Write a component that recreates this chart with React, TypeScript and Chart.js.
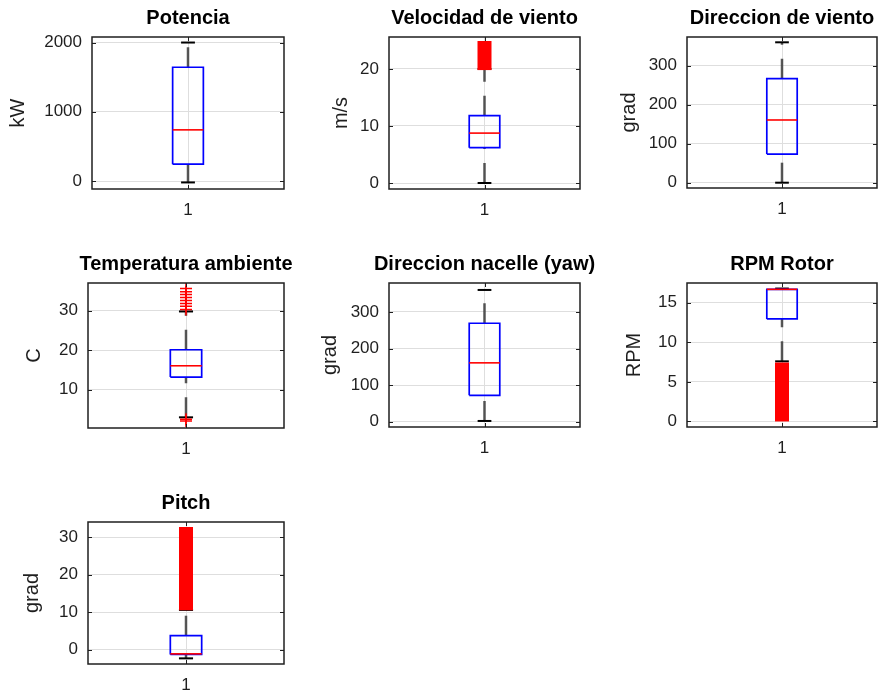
import React, { useEffect, useRef } from "react";
import { Chart, registerables } from "chart.js";

Chart.register(...registerables);

// ---- data -------------------------------------------------------------
const titles = [
  "Potencia",
  "Velocidad de viento",
  "Direccion de viento",
  "Temperatura ambiente",
  "Direccion nacelle (yaw)",
  "RPM Rotor",
  "Pitch",
];
const units = ["kW", "m/s", "grad", "C", "grad", "RPM", "grad"];
const xCategories = ["1"];

const q1 = [243, 6.2, 73.5, 13.2, 72, 12.96, -1.25];
const medians = [739, 8.75, 160.8, 16.05, 160.8, 16.7, -1.1];
const q3 = [1643, 11.8, 266.7, 20.1, 269, 16.7, 3.73];
const whiskerLow = [-20, 0, 0, 3.0, 2, 7.6, -2.3];
const whiskerHigh = [2000, 20, 360, 29.8, 360, 16.8, 10.6];

// runs of outliers so dense that the markers merge into a solid band
const outlierBandFrom: (number | null)[] = [null, 19.8, null, null, null, 0, 10.5];
const outlierBandTo: (number | null)[] = [null, 24.9, null, null, null, 7.45, 32.7];

// individual outliers drawn as '+' markers
const outlierPoints: number[][] = [
  [],
  [],
  [],
  [2.1, 2.5, 30.3, 31.1, 31.8, 32.6, 33.3, 34.1, 34.8, 35.6],
  [],
  [],
  [],
];

const yMin = [-115, -1.05, -13.6, 0.3, -14.5, -0.7, -3.8];
const yMax = [2080, 25.6, 373.6, 37, 379, 17.5, 34];
const yTicks = [
  [0, 1000, 2000],
  [0, 10, 20],
  [0, 100, 200, 300],
  [10, 20, 30],
  [0, 100, 200, 300],
  [0, 5, 10, 15],
  [0, 10, 20, 30],
];

// ---- layout -----------------------------------------------------------
// plot-area rectangles on the page and distance of the y label from the axis
const panelRects = [
  { left: 92, top: 37, width: 192, height: 152, labelGap: 73.5 },
  { left: 389, top: 37, width: 191, height: 152, labelGap: 47.8 },
  { left: 687, top: 37, width: 190, height: 151, labelGap: 58 },
  { left: 88, top: 283, width: 196, height: 145, labelGap: 54 },
  { left: 389, top: 283, width: 191, height: 144, labelGap: 58.3 },
  { left: 687, top: 283, width: 190, height: 144, labelGap: 52.7 },
  { left: 88, top: 522, width: 196, height: 142, labelGap: 55.8 },
];

const Y_AXIS_W = 100;
const TITLE_H = 36;
const X_AXIS_H = 40;
const BOX_HALF = 0.08;
const CAP_HALF = 0.036;
const LABEL_SIZE = 20;

const FONT = "'Liberation Sans', Arial, Helvetica, sans-serif";
const AXIS_COLOR = "#1f1f1f";
const GRID_COLOR = "#dedede";
const BOX_COLOR = "#0000ff";
const RED = "#ff0000";
const WHISKER_COLOR = "rgba(45,45,45,0.8)";

const axesFrame = {
  id: "axesFrame",
  afterDatasetsDraw(chart: any) {
    const { ctx, chartArea } = chart;
    const { left, top, right, bottom } = chartArea;
    const yScale = chart.scales.y;
    const xScale = chart.scales.x;
    ctx.save();
    ctx.strokeStyle = AXIS_COLOR;
    ctx.lineWidth = 1;
    ctx.beginPath();
    for (const t of yScale.ticks) {
      const py = Math.round(yScale.getPixelForValue(t.value)) + 0.5;
      ctx.moveTo(left, py);
      ctx.lineTo(left + 4, py);
      ctx.moveTo(right, py);
      ctx.lineTo(right - 4, py);
    }
    for (const t of xScale.ticks) {
      const px = Math.round(xScale.getPixelForValue(t.value)) + 0.5;
      ctx.moveTo(px, bottom);
      ctx.lineTo(px, bottom - 4);
      ctx.moveTo(px, top);
      ctx.lineTo(px, top + 4);
    }
    ctx.stroke();
    ctx.lineWidth = 1.5;
    ctx.strokeRect(left, top, right - left, bottom - top);
    ctx.restore();
  },
};

function segment(x0: number, y0: number, x1: number, y1: number) {
  return [
    { x: x0, y: y0 },
    { x: x1, y: y1 },
  ];
}

function buildDatasets(i: number) {
  const c = 1;
  const sets: any[] = [];
  const line = { showLine: true, pointRadius: 0, pointHoverRadius: 0, fill: false };

  if (outlierPoints[i].length) {
    sets.push({
      label: "outliers",
      data: outlierPoints[i].map((v) => ({ x: c, y: v })),
      showLine: false,
      pointStyle: "cross",
      pointRadius: 6,
      pointBorderColor: RED,
      pointBorderWidth: 1.5,
      borderColor: RED,
      order: 0,
    });
  }
  const bf = outlierBandFrom[i];
  const bt = outlierBandTo[i];
  if (bf !== null && bt !== null) {
    sets.push({
      ...line,
      label: "outlier band",
      data: segment(c, bf, c, bt),
      borderColor: RED,
      borderWidth: 14,
      borderCapStyle: "butt",
      order: 1,
    });
  }
  sets.push({
    ...line,
    label: "median",
    data: segment(c - BOX_HALF, medians[i], c + BOX_HALF, medians[i]),
    borderColor: RED,
    borderWidth: 1.6,
    order: 2,
  });
  sets.push({
    ...line,
    label: "box",
    data: [
      { x: c - BOX_HALF, y: q1[i] },
      { x: c + BOX_HALF, y: q1[i] },
      { x: c + BOX_HALF, y: q3[i] },
      { x: c - BOX_HALF, y: q3[i] },
      { x: c - BOX_HALF, y: q1[i] },
    ],
    borderColor: BOX_COLOR,
    borderWidth: 1.7,
    borderJoinStyle: "miter",
    order: 3,
  });
  sets.push({
    ...line,
    label: "upper cap",
    data: segment(c - CAP_HALF, whiskerHigh[i], c + CAP_HALF, whiskerHigh[i]),
    borderColor: "#000",
    borderWidth: 2,
    order: 4,
  });
  sets.push({
    ...line,
    label: "lower cap",
    data: segment(c - CAP_HALF, whiskerLow[i], c + CAP_HALF, whiskerLow[i]),
    borderColor: "#000",
    borderWidth: 2,
    order: 4,
  });
  sets.push({
    ...line,
    label: "upper whisker",
    data: segment(c, q3[i], c, whiskerHigh[i]),
    borderColor: WHISKER_COLOR,
    borderWidth: 2.5,
    borderDash: [20, 14],
    borderCapStyle: "butt",
    order: 5,
  });
  sets.push({
    ...line,
    label: "lower whisker",
    data: segment(c, whiskerLow[i], c, q1[i]),
    borderColor: WHISKER_COLOR,
    borderWidth: 2.5,
    borderDash: [20, 14],
    borderCapStyle: "butt",
    order: 5,
  });
  return sets;
}

function BoxPanel({ index }: { index: number }) {
  const ref = useRef<HTMLCanvasElement | null>(null);
  const rect = panelRects[index];
  const canvasW = rect.width + 2 * Y_AXIS_W;
  const canvasH = rect.height + TITLE_H + X_AXIS_H;

  useEffect(() => {
    if (!ref.current) return;
    const labelLine = LABEL_SIZE * 1.2;
    const chart = new Chart(ref.current, {
      type: "scatter",
      data: { datasets: buildDatasets(index) },
      plugins: [axesFrame],
      options: {
        responsive: false,
        maintainAspectRatio: false,
        animation: false,
        devicePixelRatio: 1,
        events: [],
        layout: { padding: 0 },
        plugins: {
          legend: { display: false },
          tooltip: { enabled: false },
          title: {
            display: true,
            text: titles[index],
            color: "#000",
            font: { family: FONT, size: 20, weight: "bold", lineHeight: 1.2 },
            padding: { top: 5, bottom: 7 },
          },
        },
        scales: {
          x: {
            type: "linear",
            min: 0.5,
            max: 1.5,
            afterBuildTicks: (s: any) => {
              s.ticks = xCategories.map((_, k) => ({ value: k + 1 }));
            },
            afterFit: (s: any) => {
              s.height = X_AXIS_H;
            },
            ticks: {
              autoSkip: false,
              maxRotation: 0,
              padding: 11,
              color: AXIS_COLOR,
              font: { family: FONT, size: 17 },
              callback: (v: any) => xCategories[Math.round(Number(v)) - 1] ?? "",
            },
            grid: { color: GRID_COLOR, lineWidth: 1, drawTicks: false },
            border: { display: false },
          },
          y: {
            type: "linear",
            position: "left",
            min: yMin[index],
            max: yMax[index],
            afterBuildTicks: (s: any) => {
              s.ticks = yTicks[index].map((v) => ({ value: v }));
            },
            afterFit: (s: any) => {
              s.width = Y_AXIS_W;
            },
            ticks: {
              autoSkip: false,
              padding: 10,
              color: AXIS_COLOR,
              font: { family: FONT, size: 17 },
              callback: (v: any) => String(v),
            },
            grid: { color: GRID_COLOR, lineWidth: 1, drawTicks: false },
            border: { display: false },
            title: {
              display: true,
              text: units[index],
              color: AXIS_COLOR,
              font: { family: FONT, size: LABEL_SIZE, lineHeight: 1.2 },
              padding: { top: Y_AXIS_W - rect.labelGap - labelLine / 2, bottom: 0 },
            },
          },
          y2: {
            type: "linear",
            position: "right",
            display: true,
            afterFit: (s: any) => {
              s.width = Y_AXIS_W;
            },
            ticks: { display: false },
            grid: { display: false, drawTicks: false },
            border: { display: false },
          },
        },
      } as any,
    });
    return () => chart.destroy();
  }, [index]);

  return (
    <div
      style={{
        position: "absolute",
        left: rect.left - Y_AXIS_W,
        top: rect.top - TITLE_H,
        width: canvasW,
        height: canvasH,
      }}
    >
      <canvas ref={ref} width={canvasW} height={canvasH} style={{ display: "block" }} />
    </div>
  );
}

export default function App() {
  return (
    <div
      style={{
        position: "absolute",
        left: 0,
        top: 0,
        width: 883,
        height: 694,
        background: "#fff",
        overflow: "hidden",
      }}
    >
      {titles.map((_, i) => (
        <BoxPanel key={i} index={i} />
      ))}
    </div>
  );
}
